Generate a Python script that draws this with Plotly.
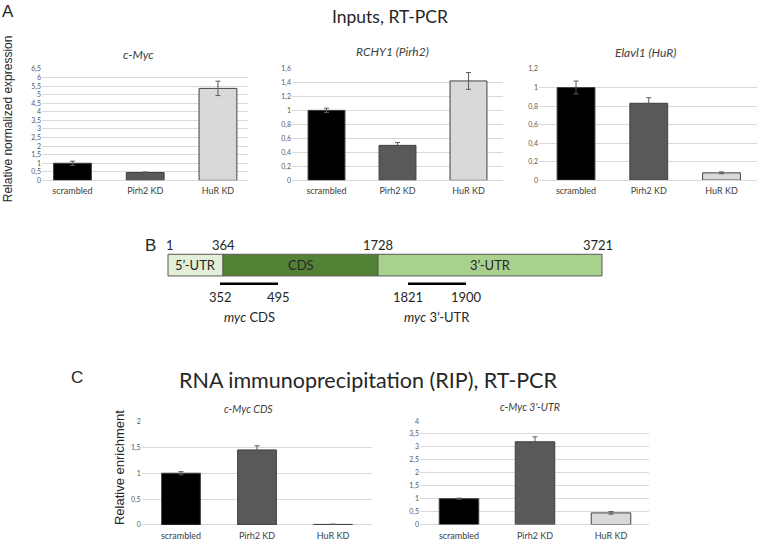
import plotly.graph_objects as go
import numpy as np

# ---------------- data ----------------
categories = ["scrambled", "Pirh2 KD", "HuR KD"]

cmyc_vals = [1.0, 0.46, 5.37]
cmyc_err = [0.12, 0.03, 0.42]
rchy1_vals = [1.0, 0.50, 1.42]
rchy1_err = [0.03, 0.04, 0.12]
elavl1_vals = [1.0, 0.83, 0.078]
elavl1_err = [0.07, 0.06, 0.01]
rip_cds_vals = [1.0, 1.45, 0.01]
rip_cds_err = [0.03, 0.08, 0.005]
rip_utr_vals = [1.0, 3.2, 0.45]
rip_utr_err = [0.02, 0.19, 0.05]

input_titles = ["c-Myc", "RCHY1 (Pirh2)", "Elavl1 (HuR)"]
rip_titles = ["c-Myc CDS", "c-Myc 3'-UTR"]
main_titles = ["Inputs, RT-PCR", "RNA immunoprecipitation (RIP), RT-PCR"]
y_titles = ["Relative normalized expression", "Relative enrichment"]
panel_letters = ["A", "B", "C"]

region_names = ["5’-UTR", "CDS", "3’-UTR"]
region_bounds = [1, 364, 1728, 3721]
probe_names = ["<i>myc</i> CDS", "<i>myc</i> 3’-UTR"]
probe_bounds = [[352, 495], [1821, 1900]]

# ---------------- style / layout ----------------
W, H = 759, 542
BAR_COLORS = ["#000000", "#595959", "#d9d9d9"]
GRID = "#d9d9d9"
TXT = "#404040"
CAL = "Lato, 'Open Sans', sans-serif"
ARIAL = "'Liberation Sans', Arial, sans-serif"

# schematic (not-to-scale) mapping of nucleotide position -> drawing units
SCHEM_NT = [1, 352, 364, 495, 1728, 1821, 1900, 3721]
SCHEM_U = [168, 220, 223, 278, 378, 408, 466, 602]


def schem(nt):
    return float(np.interp(nt, SCHEM_NT, SCHEM_U))


def px_dom_x(a, b):
    return [a / W, b / W]


def px_dom_y(top, bottom):
    return [1 - bottom / H, 1 - top / H]


panels = [
    # vals, errs, ymax, dtick, xdom(px), ydom(px top,bottom), xrange, bar width
    (cmyc_vals, cmyc_err, 6.5, 0.5, (42, 248), (65, 178), (-0.419, 2.413), 0.52),
    (rchy1_vals, rchy1_err, 1.6, 0.2, (292, 503), (64.3, 178), (-0.486, 2.486), 0.52),
    (elavl1_vals, elavl1_err, 1.2, 0.2, (539, 757), (65, 177.7), (-0.509, 2.488), 0.52),
    (rip_cds_vals, rip_cds_err, 2.0, 0.5, (141.7, 371.7), (422.7, 527.7), (-0.517, 2.509), 0.51),
    (rip_utr_vals, rip_utr_err, 4.0, 0.5, (420, 649), (422.3, 527.3), (-0.513, 2.5), 0.52),
]

fig = go.Figure()
layout = dict(
    width=W, height=H,
    margin=dict(l=0, r=0, t=0, b=0),
    paper_bgcolor="white", plot_bgcolor="rgba(0,0,0,0)",
    showlegend=False,
    separators=", ",
)

for i, (vals, errs, ymax, dt, xd, yd, xr, bw) in enumerate(panels):
    n = i + 1
    xa = "x" if n == 1 else f"x{n}"
    ya = "y" if n == 1 else f"y{n}"
    fig.add_trace(go.Bar(
        x=categories, y=vals,
        width=[bw] * len(vals),
        marker=dict(color=BAR_COLORS, line=dict(color="#404040", width=1)),
        error_y=dict(type="data", array=errs, visible=True,
                     color="#595959", thickness=1, width=2.5),
        xaxis=xa, yaxis=ya,
    ))
    layout["xaxis" if n == 1 else f"xaxis{n}"] = dict(
        domain=px_dom_x(*xd), anchor=ya, type="category",
        range=list(xr), showgrid=False, showline=False, zeroline=False,
        ticks="", ticklabelstandoff=4,
        tickfont=dict(family=CAL, size=9, color=TXT),
        fixedrange=True,
    )
    layout["yaxis" if n == 1 else f"yaxis{n}"] = dict(
        domain=px_dom_y(*yd), anchor=xa, range=[0, ymax], dtick=dt, tick0=0,
        showgrid=True, gridcolor=GRID, gridwidth=1,
        zeroline=True, zerolinecolor=GRID, zerolinewidth=1,
        showline=False, ticks="",
        tickfont=dict(family=CAL, size=7, color="#595959"),
        fixedrange=True,
    )

shapes = []
annotations = []


def X(px):
    return px / W


def Y(px):
    return 1 - px / H


def ann(x, y, text, size, family=CAL, color="#262626", **kw):
    annotations.append(dict(x=X(x), y=Y(y), xref="paper", yref="paper", text=text,
                            showarrow=False, xanchor="center", yanchor="middle",
                            font=dict(family=family, size=size, color=color), **kw))


# --- diagram (panel B) ---
region_fills = ["#e2f0d9", "#548235", "#a9d18e"]
BOX_TOP, BOX_BOT = 253, 275
for k, name in enumerate(region_names):
    x0, x1 = schem(region_bounds[k]), schem(region_bounds[k + 1])
    shapes.append(dict(type="rect", xref="paper", yref="paper", x0=X(x0), x1=X(x1),
                       y0=Y(BOX_BOT), y1=Y(BOX_TOP),
                       fillcolor=region_fills[k], line=dict(color="#595959", width=1), layer="above"))
    ann((x0 + x1) / 2, (BOX_TOP + BOX_BOT) / 2, name, 13)
for b in region_bounds:
    ann(schem(b) + (2 if b == region_bounds[0] else 0) - (4 if b == region_bounds[-1] else 0),
        244, str(b), 13)
for name, (p0, p1) in zip(probe_names, probe_bounds):
    x0, x1 = schem(p0), schem(p1)
    shapes.append(dict(type="line", xref="paper", yref="paper", x0=X(x0), x1=X(x1),
                       y0=Y(283), y1=Y(283), line=dict(color="#000000", width=2.5)))
    ann(x0, 296, str(p0), 13)
    ann(x1, 296, str(p1), 13)
    ann((x0 + x1) / 2, 317, name, 13)

# --- titles ---
ann(390, 12, main_titles[0], 17.5)
ann(368, 381, main_titles[1], 21.5)
for t, (cx, cy) in zip(input_titles, [(138, 50), (392, 47), (645, 48)]):
    ann(cx, cy, f"<i>{t}</i>", 12, color=TXT)
for t, (cx, cy) in zip(rip_titles, [(248, 410), (530, 408)]):
    ann(cx, cy, f"<i>{t}</i>", 10.5, color=TXT)
ann(8, 116, y_titles[0], 12, family=ARIAL, color="#262626", textangle=-90)
ann(119, 470, y_titles[1], 13, family=ARIAL, color="#262626", textangle=-90)
for L, (lx, ly) in zip(panel_letters, [(8, 7), (150, 244), (77, 378)]):
    ann(lx, ly, L, 17, family=ARIAL, color="#262626")

layout["shapes"] = shapes
layout["annotations"] = annotations
fig.update_layout(**layout)
fig.write_html("out.html", config={"displayModeBar": False},
               post_script="document.body.style.margin='0';")
